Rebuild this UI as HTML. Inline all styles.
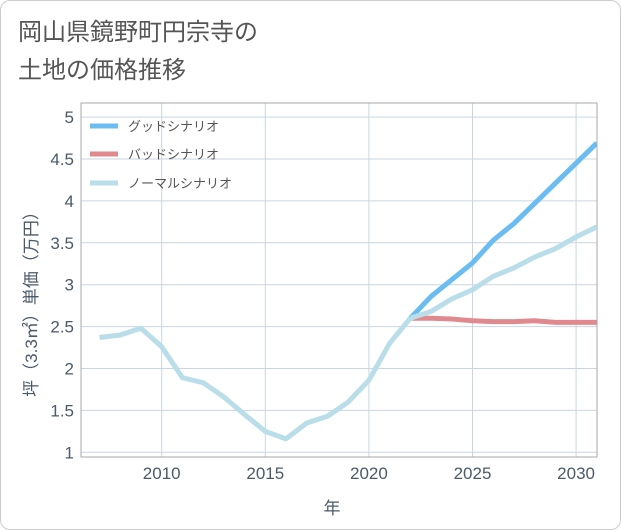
<!DOCTYPE html>
<html><head><meta charset="utf-8"><style>
body{margin:0;background:#fff;font-family:"Liberation Sans","Noto Sans CJK JP",sans-serif;}
#card{position:absolute;left:0;top:0;width:619px;height:528px;border:1px solid #ccc;border-radius:10px;background:#fff;}
#title{position:absolute;left:17px;top:13px;font-size:24px;line-height:38px;color:#555;}
</style></head><body>
<div id="card">
<svg id="chart" width="621" height="530" style="position:absolute;left:-1px;top:-1px"></svg>
<div id="title">岡山県鏡野町円宗寺の<br>土地の価格推移</div>
</div>
<script>
const years=[2007,2008,2009,2010,2011,2012,2013,2014,2015,2016,2017,2018,2019,2020,2021,2022];
const normalPast=[2.37,2.40,2.48,2.26,1.89,1.83,1.66,1.45,1.25,1.16,1.35,1.43,1.60,1.86,2.30,2.60];
const futureYears=[2022,2023,2024,2025,2026,2027,2028,2029,2030,2031];
const goodVals=[2.60,2.86,3.06,3.26,3.53,3.73,3.97,4.21,4.45,4.69];
const badVals=[2.60,2.60,2.59,2.57,2.56,2.56,2.57,2.55,2.55,2.55];
const normalFuture=[2.60,2.68,2.83,2.94,3.10,3.20,3.33,3.43,3.57,3.69];
const yTicks=[1,1.5,2,2.5,3,3.5,4,4.5,5];
const yTickLabels=["1","1.5","2","2.5","3","3.5","4","4.5","5"];
const xTicks=[2010,2015,2020,2025,2030];
const pL=81,pR=597,pT=103,pB=457;
const xS=v=>161.7+(v-2010)*20.72;
const yS=v=>452.3-(v-1)*83.8;
const svg=document.getElementById('chart');
const NS='http://www.w3.org/2000/svg';
function mk(t,a){const e=document.createElementNS(NS,t);for(const k in a)e.setAttribute(k,a[k]);svg.appendChild(e);return e;}
yTicks.forEach((v,i)=>{
 const l=mk('line',{x1:pL,x2:pR,y1:yS(v),y2:yS(v),stroke:'#c9d6e2','stroke-width':1});
 
 
 const t=mk('text',{x:74,y:yS(v)+6,'text-anchor':'end','font-size':17,fill:'#4a5a6a'});
 t.textContent=yTickLabels[i];
 
 
});
xTicks.forEach(v=>{
 const l=mk('line',{x1:xS(v),x2:xS(v),y1:pT,y2:pB,stroke:'#c9d6e2','stroke-width':1});
 
 
 const t=mk('text',{x:xS(v),y:479,'text-anchor':'middle','font-size':17,fill:'#4a5a6a'});
 t.textContent=String(v);
 
 
});
const fr=mk('rect',{x:pL,y:pT,width:pR-pL,height:pB-pT,fill:'none',stroke:'#aaa','stroke-width':1});


const clip=mk('clipPath',{id:'cp'});
const cr=document.createElementNS(NS,'rect');cr.setAttribute('x',pL);cr.setAttribute('y',pT);cr.setAttribute('width',pR-pL);cr.setAttribute('height',pB-pT);clip.appendChild(cr);
function line(xs,ys,color,name){
 const p=mk('polyline',{points:xs.map((x,i)=>xS(x)+','+yS(ys[i])).join(' '),fill:'none',stroke:color,'stroke-width':5,'stroke-linejoin':'round','clip-path':'url(#cp)'});
 
 
}
line(futureYears,goodVals,'#6bbcf0','good-scenario-line');
line(futureYears,badVals,'#e08a8f','bad-scenario-line');
line(years,normalPast,'#b9dde9','normal-history-line');
line(futureYears,normalFuture,'#b9dde9','normal-scenario-line');
const leg=[['グッドシナリオ','#6bbcf0',126],['バッドシナリオ','#e08a8f',154],['ノーマルシナリオ','#b9dde9',183]];
leg.forEach(d=>{
 const l=mk('line',{x1:90,x2:118,y1:d[2],y2:d[2],stroke:d[1],'stroke-width':5});
 
 
 const t=mk('text',{x:128,y:d[2]+5,'font-size':13,fill:'#555'});
 t.textContent=d[0];
 
 
});
const xt=mk('text',{x:332,y:514,'text-anchor':'middle','font-size':17,fill:'#4a5a6a'});
xt.textContent='年';


const yt=mk('text',{x:0,y:0,'text-anchor':'middle','font-size':17,fill:'#4a5a6a',transform:'translate(37,300) rotate(-90)'});
yt.textContent='坪（3.3㎡）単価（万円）';


</script>
</body></html>
